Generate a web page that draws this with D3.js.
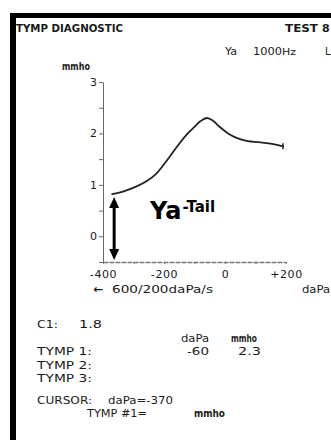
<!DOCTYPE html>
<html>
<head>
<meta charset="utf-8">
<script src="https://cdn.jsdelivr.net/npm/d3@7"></script>
<style>
  html, body { margin: 0; padding: 0; background: #fff; }
  svg { display: block; }
  text { fill: #1a1a1a; font-family: "DejaVu Sans", Verdana, sans-serif; }
</style>
</head>
<body>
<script>
// Tympanogram: admittance (mmho) against ear-canal pressure (daPa)
const pressure   = [-370, -330, -290, -255, -225, -200, -175, -150, -125, -100, -80, -60, -40, -20, 10, 40, 75, 110, 150, 190];
const admittance = [0.82, 0.88, 0.97, 1.08, 1.22, 1.40, 1.60, 1.80, 1.98, 2.13, 2.24, 2.30, 2.25, 2.14, 2.00, 1.91, 1.85, 1.83, 1.80, 1.75];

const yTicks = [-0.5, 0, 0.5, 1, 1.5, 2, 2.5, 3];
const yLabels = [0, 1, 2, 3];
const xTicks = [-400, -300, -200, -100, 0, 100, 200];
const xLabels = [-400, -200, 0, 200];

// Readout values
const c1Value = "1.8";
const tymp1Pressure = -60;
const tymp1Admittance = 2.3;
const cursorPressure = -370;

const W = 331, H = 440;
const svg = d3.select("body").append("svg").attr("width", W).attr("height", H);

// printout frame
svg.append("rect").attr("x", 10).attr("y", 13).attr("width", 6).attr("height", H - 13).attr("fill", "#000");
svg.append("rect").attr("x", 10).attr("y", 13).attr("width", W - 10).attr("height", 5).attr("fill", "#000");

const x = d3.scaleLinear().domain([-400, 200]).range([103, 286]);
const y = d3.scaleLinear().domain([-0.5, 3]).range([262, 82]);

// text helper: fixed start and spread width like the printer font
function label(tx, ty, str, width, opts = {}) {
  const t = svg.append("text")
    .attr("x", tx).attr("y", ty)
    .attr("font-size", opts.size || 10)
    .attr("font-weight", opts.weight || "normal")
    .text(str);
  if (opts.anchor) t.attr("text-anchor", opts.anchor);
  if (width) t.attr("textLength", width).attr("lengthAdjust", "spacingAndGlyphs");
  return t;
}

// header
label(16, 32, "TYMP DIAGNOSTIC", 107, {size: 10, weight: "bold"});
label(285, 32, "TEST", 33, {size: 10, weight: "bold"});
label(322, 32, "8", null, {size: 11, weight: "bold"});
label(225, 55, "Ya", 12, {size: 10});
label(253, 55, "1000", 29, {size: 11});
label(282, 55, "Hz", 14, {size: 8});
label(325, 55, "L", null, {size: 10});
label(62, 70, "mmho", 28, {size: 10, weight: "bold"});

// y axis
const yAxis = d3.axisLeft(y)
  .tickValues(yTicks)
  .tickSize(4)
  .tickSizeOuter(0)
  .tickPadding(2)
  .tickFormat(d => yLabels.includes(d) ? String(d) : "");
const gy = svg.append("g").attr("transform", "translate(103,0)").call(yAxis);
gy.select(".domain").attr("stroke", "#666").attr("stroke-width", 1);
gy.selectAll(".tick line").attr("stroke", "#666");
gy.selectAll(".tick text").attr("font-size", 11).attr("fill", "#1a1a1a")
  .attr("font-family", "DejaVu Sans, sans-serif");

// x axis
const xAxis = d3.axisBottom(x)
  .tickValues(xTicks)
  .tickSize(2)
  .tickSizeOuter(0)
  .tickPadding(6)
  .tickFormat(d => xLabels.includes(d) ? (d > 0 ? "+" + d : String(d)) : "");
const gx = svg.append("g").attr("transform", "translate(0,262)").call(xAxis);
gx.select(".domain").attr("stroke", "#777").attr("stroke-width", 1.3).attr("stroke-dasharray", "5,1");
gx.selectAll(".tick line").attr("stroke", "#777");
gx.selectAll(".tick text").attr("font-size", 11).attr("fill", "#1a1a1a")
  .attr("font-family", "DejaVu Sans, sans-serif").attr("letter-spacing", 0.6);

// tympanogram curve
const pts = pressure.map((p, i) => [p, admittance[i]]);
const line = d3.line().x(d => x(d[0])).y(d => y(d[1])).curve(d3.curveCatmullRom.alpha(0.5));
svg.append("path").datum(pts).attr("d", line)
  .attr("fill", "none").attr("stroke", "#222").attr("stroke-width", 1.8)
  .attr("stroke-linejoin", "round").attr("stroke-linecap", "round");

// end-of-sweep marker
const last = pts[pts.length - 1];
svg.append("line")
  .attr("x1", x(last[0])).attr("x2", x(last[0]))
  .attr("y1", y(last[1]) - 3).attr("y2", y(last[1]) + 3)
  .attr("stroke", "#222").attr("stroke-width", 1.5);

// Ya-tail double arrow at the cursor pressure
const ax = x(cursorPressure) + 2;
const aTop = y(admittance[0]) + 3;
const aBot = y(-0.5) - 2;
svg.append("line").attr("x1", ax).attr("x2", ax).attr("y1", aTop + 8).attr("y2", aBot - 8)
  .attr("stroke", "#000").attr("stroke-width", 3);
svg.append("path")
  .attr("d", `M${ax},${aTop} L${ax - 5},${aTop + 11} L${ax + 5},${aTop + 11} Z`)
  .attr("fill", "#000");
svg.append("path")
  .attr("d", `M${ax},${aBot} L${ax - 5},${aBot - 11} L${ax + 5},${aBot - 11} Z`)
  .attr("fill", "#000");

const ya = svg.append("text").attr("x", 150).attr("y", 219)
  .attr("font-family", "Liberation Sans, Arial, sans-serif").attr("font-weight", "bold")
  .attr("font-size", 24).style("fill", "#000");
ya.append("tspan").text("Ya");
ya.append("tspan").attr("dx", 1).attr("dy", -7).attr("font-size", 15).text("-Tail");

// sweep rate and unit
label(93, 293, "\u2190", 10, {size: 11, weight: "bold"});
label(112, 293, "600/200daPa/s", 101, {size: 11});
label(302, 293, "daPa", 28, {size: 11});

// readout block
label(37, 328, "C1:", 21, {size: 11});
label(79, 328, c1Value, 23, {size: 11});
label(181, 342, "daPa", 28, {size: 11});
label(231, 342, "mmho", 26, {size: 10, weight: "bold"});
label(37, 355, "TYMP 1:", 55, {size: 10.5});
label(187, 355, String(tymp1Pressure), 22, {size: 11});
label(238, 355, tymp1Admittance.toFixed(1), 23, {size: 11});
label(37, 369, "TYMP 2:", 55, {size: 10.5});
label(37, 382, "TYMP 3:", 55, {size: 10.5});
label(37, 404, "CURSOR:", 55, {size: 10.5});
label(108, 404, "daPa=" + cursorPressure, 65, {size: 11});
label(87, 417, "TYMP #1=", 60, {size: 10.5});
label(194, 417, "mmho", 31, {size: 10, weight: "bold"});
</script>
</body>
</html>
